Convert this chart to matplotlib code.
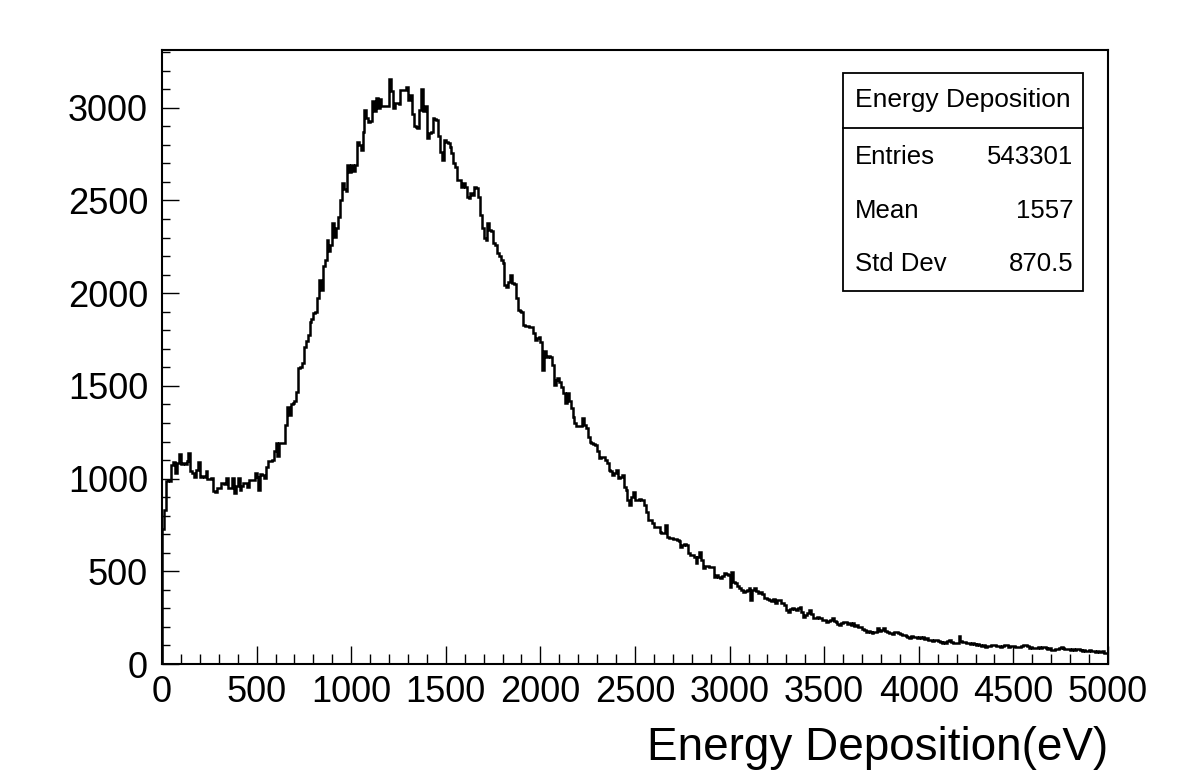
import matplotlib
matplotlib.use("Agg")
import matplotlib.pyplot as plt
from matplotlib.patches import Rectangle
from matplotlib.ticker import MultipleLocator
import numpy as np

# histogram: 500 bins of 10 eV between 0 and 5000 eV
x_min, x_max, bin_width = 0, 5000, 10
counts = [
    730, 830, 985, 990, 985, 1075, 1090, 1030, 1085, 1131,      # 0
    1080, 1085, 1080, 1095, 1137, 1040, 1030, 1010, 1045, 1088,  # 100
    1010, 1012, 1008, 1040, 1000, 998, 1002, 932, 930, 948,      # 200
    950, 975, 975, 970, 1002, 948, 950, 1002, 922, 960,          # 300
    1002, 940, 962, 975, 978, 957, 993, 990, 995, 1029,          # 400
    1010, 940, 1025, 1020, 1002, 1065, 1097, 1095, 1100, 1151,   # 500
    1190, 1120, 1194, 1192, 1194, 1290, 1388, 1345, 1400, 1406,  # 600
    1420, 1469, 1595, 1600, 1622, 1712, 1740, 1775, 1847, 1860,  # 700
    1895, 1901, 1973, 2072, 2018, 2144, 2180, 2288, 2225, 2260,  # 800
    2378, 2303, 2350, 2413, 2503, 2594, 2560, 2549, 2692, 2656,  # 900
    2692, 2660, 2690, 2818, 2800, 2770, 2872, 2989, 2945, 2926,  # 1000
    2930, 3034, 2980, 3052, 2998, 3045, 3010, 3008, 3012, 3010,  # 1100
    3154, 3090, 2998, 3028, 3028, 3019, 3097, 3095, 3097, 3110,  # 1200
    3040, 3070, 2965, 2900, 2895, 2890, 2990, 3100, 2980, 3010,  # 1300
    2837, 2863, 2870, 2944, 2940, 2935, 2846, 2760, 2719, 2828,  # 1400
    2815, 2810, 2790, 2755, 2700, 2683, 2612, 2610, 2575, 2594,  # 1500
    2575, 2521, 2513, 2540, 2530, 2575, 2570, 2521, 2423, 2351,  # 1600
    2300, 2285, 2378, 2340, 2333, 2270, 2261, 2216, 2200, 2180,  # 1700
    2162, 2045, 2036, 2060, 2099, 2054, 2050, 1973, 1910, 1905,  # 1800
    1901, 1829, 1825, 1822, 1820, 1818, 1784, 1748, 1760, 1766,  # 1900
    1739, 1586, 1690, 1658, 1660, 1658, 1613, 1505, 1530, 1542,  # 2000
    1520, 1496, 1461, 1407, 1461, 1420, 1380, 1330, 1300, 1281,  # 2100
    1281, 1281, 1326, 1290, 1272, 1227, 1200, 1191, 1185, 1182,  # 2200
    1150, 1110, 1119, 1115, 1100, 1083, 1047, 1040, 1020, 1030,  # 2300
    1047, 1002, 1010, 1020, 957, 939, 885, 858, 900, 930,        # 2400
    885, 885, 888, 885, 885, 858, 822, 777, 777, 760,            # 2500
    741, 740, 741, 714, 705, 705, 750, 687, 680, 678,            # 2600
    675, 672, 669, 665, 633, 640, 645, 642, 600, 588,            # 2700
    590, 579, 543, 575, 606, 561, 516, 530, 528, 525,            # 2800
    525, 525, 471, 480, 470, 462, 475, 489, 485, 480,            # 2900
    417, 498, 440, 435, 420, 408, 400, 390, 395, 400,            # 3000
    408, 345, 400, 408, 395, 385, 390, 380, 354, 358,            # 3100
    350, 345, 340, 348, 327, 345, 345, 330, 327, 320,            # 3200
    291, 282, 295, 300, 298, 290, 300, 309, 280, 255,            # 3300
    262, 275, 291, 270, 246, 250, 255, 246, 250, 240,            # 3400
    235, 228, 232, 240, 246, 230, 225, 218, 210, 222,            # 3500
    225, 228, 215, 222, 212, 219, 205, 210, 201, 198,            # 3600
    190, 185, 174, 180, 172, 165, 175, 170, 192, 180,            # 3700
    185, 192, 178, 170, 165, 168, 160, 174, 174, 165,            # 3800
    162, 156, 158, 150, 145, 138, 150, 148, 147, 142,            # 3900
    145, 140, 147, 135, 138, 129, 132, 125, 130, 129,            # 4000
    122, 118, 111, 120, 115, 125, 129, 118, 115, 111,            # 4100
    112, 151, 125, 118, 120, 112, 115, 108, 115, 110,            # 4200
    105, 108, 103, 98, 100, 90, 95, 98, 102, 103,                # 4300
    100, 95, 97, 92, 98, 103, 100, 94, 97, 97,                   # 4400
    95, 92, 93, 90, 96, 100, 103, 95, 88, 90,                    # 4500
    84, 88, 86, 90, 85, 92, 90, 88, 82, 85,                      # 4600
    75, 78, 82, 80, 88, 93, 85, 80, 79, 82,                      # 4700
    78, 80, 76, 79, 81, 75, 72, 78, 72, 70,                      # 4800
    75, 68, 72, 66, 70, 66, 64, 68, 62, 61,                      # 4900
]

hist_title = "Energy Deposition"
x_title = "Energy Deposition(eV)"
stat_names = ["Entries", "Mean", "Std Dev"]
stat_values = ["543301", "1557", "870.5"]

plt.rcParams['font.family'] = ['Liberation Sans', 'DejaVu Sans']

W, H = 1198, 776
fig = plt.figure(figsize=(W / 100, H / 100), dpi=100)
ax = fig.add_axes([162 / W, (H - 664) / H, 946 / W, 614 / H])

edges = np.arange(x_min, x_max + bin_width, bin_width)
counts = np.array(counts)
ax.stairs(counts, edges, color='black', lw=1.8, baseline=0)

ax.set_xlim(x_min, x_max)
ax.set_ylim(0, counts.max() * 1.05)

ax.xaxis.set_major_locator(MultipleLocator(500))
ax.xaxis.set_minor_locator(MultipleLocator(100))
ax.yaxis.set_major_locator(MultipleLocator(500))
ax.yaxis.set_minor_locator(MultipleLocator(100))
ax.tick_params(which='both', direction='in', top=False, right=False,
               width=1.0, labelsize=26)
ax.tick_params(axis='x', which='major', length=13, pad=8)
ax.tick_params(axis='x', which='minor', length=7)
ax.tick_params(axis='y', which='major', length=12, pad=10)
ax.tick_params(axis='y', which='minor', length=6)
for s in ax.spines.values():
    s.set_linewidth(1.5)

fig.text(1108 / W, (H - 760) / H, x_title, ha='right', va='baseline', fontsize=33)

# stats box
def fx(px):
    return px / W

def fy(py):
    return (H - py) / H

box = Rectangle((fx(843), fy(291)), fx(1083) - fx(843), fy(73) - fy(291),
                transform=fig.transFigure, fill=False, lw=1.3, ec='black')
fig.add_artist(box)
fig.add_artist(plt.Line2D([fx(843), fx(1083)], [fy(128), fy(128)],
                          transform=fig.transFigure, color='black', lw=1.3))
fig.text(fx(963), fy(100), hist_title, ha='center', va='center', fontsize=19)
rows_y = [157, 211, 264]
for name, val, yy in zip(stat_names, stat_values, rows_y):
    fig.text(fx(855), fy(yy), name, ha='left', va='center', fontsize=18.5)
    fig.text(fx(1073), fy(yy), val, ha='right', va='center', fontsize=18.5)

fig.savefig("out.png", dpi=100)
